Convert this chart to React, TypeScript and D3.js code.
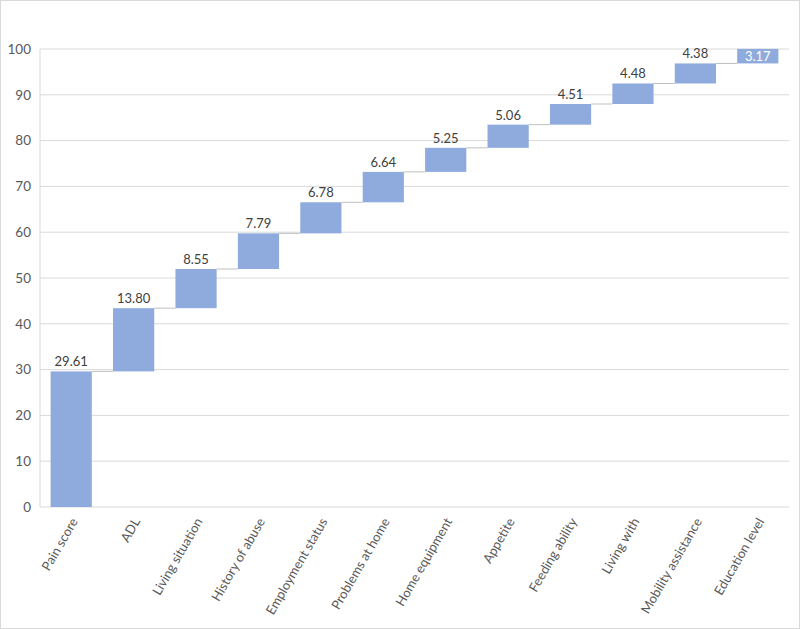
import * as d3 from "d3";

const categories = [
  "Pain score",
  "ADL",
  "Living situation",
  "History of abuse",
  "Employment status",
  "Problems at home",
  "Home equipment",
  "Appetite",
  "Feeding ability",
  "Living with",
  "Mobility assistance",
  "Education level",
];
const values = [29.61, 13.8, 8.55, 7.79, 6.78, 6.64, 5.25, 5.06, 4.51, 4.48, 4.38, 3.17];
const yTicks = [0, 10, 20, 30, 40, 50, 60, 70, 80, 90, 100];

export default function App() {
  const width = 800;
  const height = 629;
  const left = 40;
  const right = 789;
  const top = 49;
  const bottom = 507;

  const x = d3.scaleBand().domain(categories).range([left, right]).paddingInner(0.34).paddingOuter(0.17);
  const y = d3.scaleLinear().domain([0, 100]).range([bottom, top]);

  // running totals for waterfall
  let acc = 0;
  const bars = categories.map((c, i) => {
    const start = acc;
    acc += values[i];
    return { c, v: values[i], start, end: acc };
  });

  const font = "Lato, 'Liberation Sans', sans-serif";

  return (
    <svg
      width={width}
      height={height}
      style={{ position: "absolute", left: 0, top: 0, background: "#fff" }}
    >
      <rect x={0.5} y={0.5} width={width - 1} height={height - 1} fill="#fff" stroke="#d9d9d9" />
      {yTicks.map((t) => (
        <g key={t}>
          <line x1={left} x2={right} y1={y(t)} y2={y(t)} stroke="#d9d9d9" strokeWidth={1} />
          <text
            x={31}
            y={y(t)}
            dy="0.35em"
            textAnchor="end"
            fontFamily={font}
            fontSize={13.5}
            fill="#595959"
          >
            {t}
          </text>
        </g>
      ))}
      <line x1={left} x2={left} y1={top} y2={bottom} stroke="#d9d9d9" />
      {bars.map((b, i) => {
        const next = bars[i + 1];
        return (
          <g key={b.c}>
            {next && (
              <line
                x1={x(b.c)! + x.bandwidth()}
                x2={x(next.c)!}
                y1={y(b.end)}
                y2={y(b.end)}
                stroke="#bfbfbf"
                strokeWidth={1}
              />
            )}
            <rect
              x={x(b.c)}
              y={y(b.end)}
              width={x.bandwidth()}
              height={y(b.start) - y(b.end)}
              fill="#8faadc"
            />
            <text
              x={x(b.c)! + x.bandwidth() / 2}
              y={i === bars.length - 1 ? y(b.end) + 12 : y(b.end) - 5}
              textAnchor="middle"
              fontFamily={font}
              fontSize={13}
              fill={i === bars.length - 1 ? "#fff" : "#404040"}
            >
              {b.v.toFixed(2)}
            </text>
          </g>
        );
      })}
      {categories.map((c) => {
        const cx = x(c)! + x.bandwidth() / 2 + 3;
        const cy = bottom + 12;
        return (
          <text
            key={c}
            transform={`translate(${cx},${cy}) rotate(-60)`}
            textAnchor="end"
            dy="0.35em"
            fontFamily={font}
            fontSize={13}
            fill="#595959"
          >
            {c}
          </text>
        );
      })}
    </svg>
  );
}
